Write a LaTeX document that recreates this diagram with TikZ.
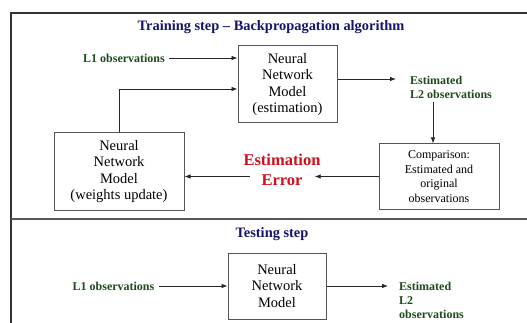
\documentclass[tikz,border=0pt]{standalone}
\usepackage{fontspec}
\setmainfont{Liberation Serif}
\usetikzlibrary{arrows.meta,calc}
\definecolor{navy}{HTML}{14146E}
\definecolor{dgreen}{HTML}{1E4A1E}
\definecolor{ered}{HTML}{D0101E}
\definecolor{framegray}{HTML}{333333}
\definecolor{boxgray}{HTML}{555555}
\tikzset{
  title/.style={font=\fontsize{14.4}{16}\selectfont\bfseries, text=navy, inner sep=0pt},
  glabel/.style={font=\fontsize{12}{14}\selectfont\bfseries, text=dgreen, align=left, inner sep=4pt},
  nnbox/.style={draw=boxgray, line width=1pt, align=center, font=\fontsize{14.5}{16.4}\selectfont, inner sep=0pt},
  cmpbox/.style={draw=boxgray, line width=1pt, align=center, font=\fontsize{12}{14.5}\selectfont, inner sep=0pt},
  errlabel/.style={font=\fontsize{16.5}{20.5}\selectfont\bfseries, text=ered, align=center, inner sep=0pt},
  arr/.style={draw=black!85, line width=0.8pt, -{Latex[length=6pt,width=4.5pt]}},
}
\begin{document}
\begin{tikzpicture}[x=1pt,y=-1pt]
\useasboundingbox (0,0) rectangle (527,323);
\fill[white] (0,0) rectangle (527,323);
\clip (0,0) rectangle (527,323);
% frame
\draw[framegray, line width=2pt] (10.5,340) -- (10.5,13) -- (540,13);
\draw[boxgray, line width=1.1pt] (10.5,219) -- (540,219);
% training
\node[title] (t1) at (271,27.5) {Training step – Backpropagation algorithm};
\node[glabel] (l1a) at (124,58) {L1 observations};
\node[nnbox, minimum width=99pt, minimum height=77pt] (nn1) at (287.5,84.5) {Neural\\Network\\Model\\(estimation)};
\node[glabel, anchor=west, inner xsep=14pt] (est1) at (396,87) {Estimated\\L2 observations};
\node[cmpbox, minimum width=120pt, minimum height=65pt] (cmp) at (439,176.5) {Comparison:\\Estimated and\\original\\observations};
\node[nnbox, minimum width=130pt, minimum height=77pt] (nnw) at (119,171.5) {Neural\\Network\\Model\\(weights update)};
\node[errlabel] (err) at (282,170) {Estimation\\Error};
\draw[arr] (l1a.east) -- (l1a.east -| nn1.west);
\draw[arr] ([yshift=5.5pt]nn1.east) -- ([yshift=5.5pt]nn1.east -| est1.west);
\draw[arr] ([xshift=-6pt]cmp.north |- est1.south) -- ([xshift=-6pt]cmp.north);
\draw[arr] (cmp.west) -- ([xshift=-6pt]err.east |- cmp.west);
\draw[arr] ([xshift=6.5pt]err.west |- cmp.west) -- (nnw.east |- cmp.west);
\draw[arr] (nnw.north) |- ([yshift=-4.5pt]nn1.west);
% testing
\node[title] (t2) at (272,234.5) {Testing step};
\node[glabel] (l1b) at (113.5,286) {L1 observations};
\node[nnbox, minimum width=98pt, minimum height=66pt] (nn2) at (277,286) {Neural\\Network\\Model};
\node[glabel, anchor=west, inner xsep=11pt] (est2) at (388,300) {Estimated\\L2\\observations};
\draw[arr] (l1b.east) -- (l1b.east -| nn2.west);
\draw[arr] (nn2.east) -- (nn2.east -| est2.west);
\end{tikzpicture}
\end{document}
